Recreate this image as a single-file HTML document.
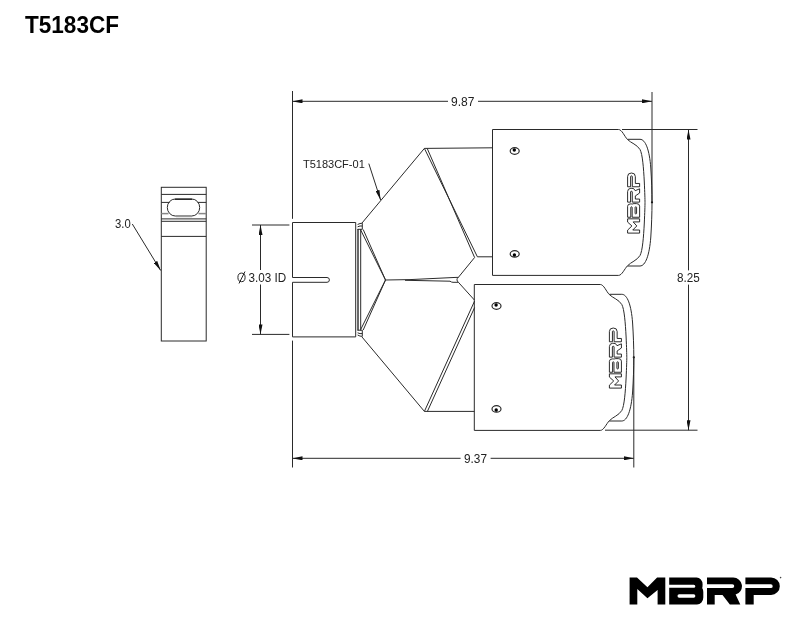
<!DOCTYPE html>
<html><head><meta charset="utf-8">
<style>
html,body{margin:0;padding:0;background:#fff;}
body{width:800px;height:618px;overflow:hidden;}
svg{display:block;will-change:transform;}
text{font-family:"Liberation Sans",sans-serif;}
</style></head>
<body>
<svg width="800" height="618" viewBox="0 0 800 618">
<defs>
<path id="logo" fill-rule="evenodd" d="M0,0 H7.4 L17.85,9.7 L27.5,0 H35.7 V27 H28 V12.5 L17.85,20.7 L7.7,11.6 V27 H0 Z
M39.6,0 H67 A6,6.8 0 0 1 73,6.8 Q73,9.6 72.6,10.6 Q73.7,12 73.7,14.5 V20 A6.3,7 0 0 1 67.4,27 H39.6 V10.25 H64.2 A1.525,1.525 0 0 0 64.2,7.2 H39.6 Z
M49.55,16.85 H64.1 A1.65,1.65 0 0 1 64.1,20.15 H49.55 A1.65,1.65 0 0 1 49.55,16.85 Z
M77.4,0 H103.65 A8.7,8.7 0 0 1 106,17.08 L110.7,27 H100.25 L92.9,17.4 H85.1 V27 H77.4 V10.5 H102.75 A1.9,1.9 0 0 0 102.75,6.7 H77.4 Z
M115.8,0 H141.5 A8.7,8.7 0 0 1 141.5,17.4 H124.1 V27 H115.8 V10.6 H141.2 A1.9,1.9 0 0 0 141.2,6.8 H115.8 Z"/>
<marker id="arr" viewBox="0 0 10 4" refX="10" refY="2" markerWidth="10" markerHeight="4" markerUnits="userSpaceOnUse" orient="auto-start-reverse">
<path d="M0,0 L10,2 L0,4 Z" fill="#111"/>
</marker>
<g id="tip">
  <!-- box with curved right end -->
  <path d="M492.5,129.5 H618.5 C622,129.5 624.5,136.5 627.5,139.5 C631,143 637,144.5 640,149.5 C642.5,154 643.6,168 644.3,182 C644.8,193 645,199 645,202.5 C645,206 644.8,212 644.3,223 C643.6,237 642.5,251 640,255.5 C637,260.5 631,262 627.5,265.8 C624.5,268.8 622,275.4 618.5,275.4 H492.5 Z"/>
  <path d="M627.5,139.3 H640 C645.5,139.3 649.5,150 650.8,168 C651.6,180 652,192 652,202.5 C652,213 651.6,225 650.8,237 C649.5,255 645.5,266 640,266 H627.5"/>
  <ellipse cx="514.7" cy="151" rx="4.5" ry="3.3" stroke-width="1.2"/>
  <circle cx="514.3" cy="150" r="1.7" fill="#000" stroke="none"/>
  <ellipse cx="514.7" cy="253.9" rx="4.5" ry="3.2" stroke-width="1.2"/>
  <circle cx="514.4" cy="255" r="1.7" fill="#000" stroke="none"/>
  <use href="#logo" transform="translate(627.6,233.1) rotate(-90) scale(0.4,0.445)" fill="none" stroke="#111" stroke-width="2.1"/>
  <circle cx="652" cy="202.3" r="1.1" fill="#111" stroke="none"/>
</g>
</defs>

<!-- title -->
<text x="25" y="33.4" font-size="23.6" font-weight="bold" fill="#000" textLength="94" lengthAdjust="spacingAndGlyphs">T5183CF</text>

<g fill="none" stroke="#2a2a2a" stroke-width="1">
  <!-- side view piece -->
  <rect x="161.3" y="187.3" width="44.9" height="153.7"/>
  <line x1="161.3" y1="194.4" x2="206.2" y2="194.4"/>
  <line x1="161.3" y1="202.4" x2="169.6" y2="202.4"/>
  <line x1="197.7" y1="202.4" x2="206.2" y2="202.4"/>
  <line x1="161.3" y1="213.6" x2="168.5" y2="213.6" stroke="#888" stroke-width="1.5"/>
  <line x1="198.5" y1="213.6" x2="206.2" y2="213.6" stroke="#888" stroke-width="1.5"/>
  <line x1="161.3" y1="218.9" x2="206.2" y2="218.9"/>
  <line x1="161.3" y1="221.3" x2="206.2" y2="221.3"/>
  <line x1="161.3" y1="236.4" x2="206.2" y2="236.4"/>
  <rect x="167.3" y="199" width="32.4" height="17" rx="8" ry="8.5"/>
  <line x1="175" y1="199.3" x2="192" y2="199.3" stroke-width="1.4"/>
  <line x1="176" y1="216.6" x2="192" y2="216.6" stroke="#999" stroke-width="1.2"/>

  <!-- collar -->
  <path d="M292.5,222.5 H355.7 V336.9 H292.5 V282.3 H327 A2.4,2.4 0 0 0 327,277.5 H292.5 Z"/>
  <line x1="358" y1="229" x2="358" y2="330.5" stroke-width="1.4"/>
  <line x1="360.7" y1="229" x2="360.7" y2="330.5"/>
  <path d="M357.6,224.5 Q360,223.2 362.3,223.2 V229.3 M357.6,226.8 Q360,225.6 362.3,226 M357.6,229.3 H362.3"/>
  <path d="M357.6,335 Q360,336.4 362.3,336.4 V330.2 M357.6,332.8 Q360,334 362.3,333.6 M357.6,330.2 H362.3"/>

  <!-- Y piece -->
  <line x1="362" y1="223" x2="424.4" y2="148.4"/>
  <line x1="424.4" y1="148.4" x2="492.5" y2="147.8"/>
  <line x1="424.4" y1="148.4" x2="477.4" y2="256.8"/>
  <line x1="427.2" y1="148.4" x2="474.6" y2="257.5"/>
  <line x1="477.4" y1="256.8" x2="492.5" y2="256.8"/>
  <line x1="474.6" y1="257.5" x2="458.4" y2="277.3"/>
  <line x1="360.7" y1="230" x2="385.5" y2="280"/><line x1="363.2" y1="229.5" x2="385.5" y2="280"/>
  <line x1="360.7" y1="329.5" x2="385.5" y2="280"/><line x1="363.2" y1="330" x2="385.5" y2="280"/>
  <path d="M385.5,280 L410,279.6 L456,277.4 H458.4 M405,280.3 L450,281.2 Q451.5,282.3 453,282.3 H458.4 M458.4,277.3 C456.5,278.5 456.5,281 458.4,282.3"/>
  <line x1="458.4" y1="282.3" x2="474.4" y2="300"/>
  <line x1="474.6" y1="301" x2="424.4" y2="411.4"/>
  <line x1="474.6" y1="307.5" x2="427.4" y2="411.4"/>
  <line x1="424.4" y1="411.4" x2="474.4" y2="411.4"/>
  <line x1="362" y1="337" x2="424.4" y2="411.4"/>

  <!-- tips -->
  <use href="#tip"/>
  <use href="#tip" transform="translate(-18.2,155)"/>

  <!-- dimension 9.87 -->
  <line x1="292.5" y1="91" x2="292.5" y2="218.8"/>
  <line x1="652" y1="92" x2="652" y2="202"/>
  <line x1="292.5" y1="101.3" x2="448" y2="101.3" marker-start="url(#arr)"/>
  <line x1="478" y1="101.3" x2="652" y2="101.3" marker-end="url(#arr)"/>

  <!-- dimension 9.37 -->
  <line x1="292.5" y1="340.6" x2="292.5" y2="467.5"/>
  <line x1="633.8" y1="357" x2="633.8" y2="467.5"/>
  <line x1="292.5" y1="458.3" x2="460.6" y2="458.3" marker-start="url(#arr)"/>
  <line x1="490.6" y1="458.3" x2="633.8" y2="458.3" marker-end="url(#arr)"/>

  <!-- dimension 8.25 -->
  <line x1="622" y1="129.5" x2="697.5" y2="129.5"/>
  <line x1="605" y1="430.2" x2="697.5" y2="430.2"/>
  <line x1="688.5" y1="129.5" x2="688.5" y2="270.4" marker-start="url(#arr)"/>
  <line x1="688.5" y1="284.6" x2="688.5" y2="430.2" marker-end="url(#arr)"/>

  <!-- dimension 3.03 -->
  <line x1="252" y1="225" x2="289.4" y2="225"/>
  <line x1="252" y1="334.4" x2="289.4" y2="334.4"/>
  <line x1="260.5" y1="225" x2="260.5" y2="270" marker-start="url(#arr)"/>
  <line x1="260.5" y1="284.5" x2="260.5" y2="334.4" marker-end="url(#arr)"/>

  <!-- leaders -->
  <line x1="132.3" y1="224" x2="160.7" y2="270.5" marker-end="url(#arr)"/>
  <line x1="368.8" y1="163.6" x2="380.6" y2="200" marker-end="url(#arr)"/>
</g>

<g fill="#222" font-size="12">
  <text x="451" y="105.6" textLength="23.4" lengthAdjust="spacingAndGlyphs">9.87</text>
  <text x="464" y="463.1" textLength="23" lengthAdjust="spacingAndGlyphs">9.37</text>
  <text x="676.9" y="282" textLength="22.8" lengthAdjust="spacingAndGlyphs">8.25</text>
  <text x="115" y="227.8" textLength="15.7" lengthAdjust="spacingAndGlyphs">3.0</text>
  <text x="248.5" y="281.8" textLength="37.7" lengthAdjust="spacingAndGlyphs">3.03 ID</text>
  <text x="302.9" y="168.1" font-size="11.7" textLength="61.9" lengthAdjust="spacingAndGlyphs">T5183CF-01</text>
</g>
<!-- diameter symbol -->
<g fill="none" stroke="#222" stroke-width="1">
  <ellipse cx="241.5" cy="277.4" rx="3.6" ry="4.3"/>
  <line x1="239" y1="283.5" x2="245" y2="271.5"/>
</g>

<!-- MBRP logo -->
<use href="#logo" transform="translate(629.6,577.5)" fill="#000"/>
<circle cx="780.6" cy="577.6" r="0.8" fill="#444"/>
</svg>
</body></html>
